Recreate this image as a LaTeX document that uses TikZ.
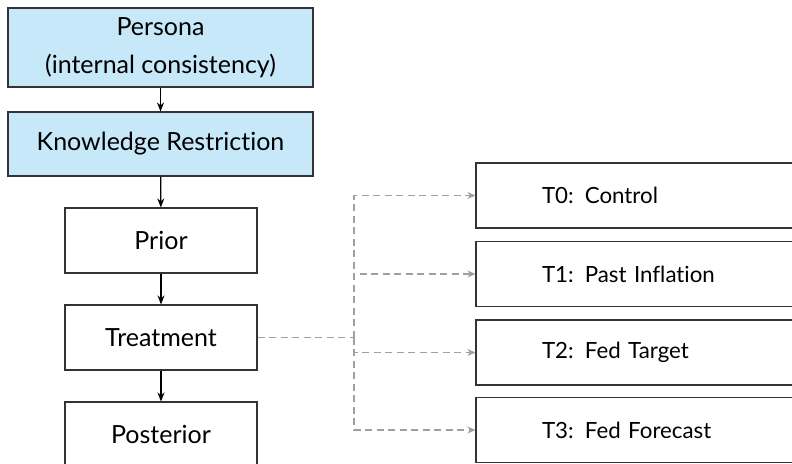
\documentclass[tikz,border=0pt]{standalone}
\usepackage{fontspec}
\setmainfont{Lato}[Ligatures=NoCommon]
\usetikzlibrary{arrows.meta}
\definecolor{boxblue}{RGB}{198,232,248}

\begin{document}
\begin{tikzpicture}
[x=1pt,y=-1pt,font=\fontsize{25}{38}\selectfont,
every node/.style={draw=black!80,line width=1.1pt,rectangle,inner sep=0pt},
stage/.style={minimum width=192pt,minimum height=65pt},
top/.style={fill=boxblue,minimum width=305pt},
arm/.style={minimum width=420pt,minimum height=65pt,text width=288pt,align=left,inner xsep=66pt,font=\fontsize{22.3}{27}\selectfont},
flow/.style={-{Stealth[length=9pt,width=7pt]},line width=1.2pt},
feed/.style={-{Stealth[length=8pt,width=7pt]},line width=1.1pt,gray!75,dash pattern=on 7pt off 4.5pt}]
\useasboundingbox (0,0) rectangle (792,463);
\node[top,minimum height=79pt,align=center] (persona) at (160.5,47.5) {Persona\\(internal consistency)};
\node[top,minimum height=64pt] (know) at (160.5,144) {Knowledge Restriction};
\node[stage] (prior) at (161,240.5) {Prior};
\node[stage] (treat) at (161,337.5) {Treatment};
\node[stage] (post) at (161,434.5) {Posterior};
\node[arm] (t0) at (686,195.5) {T0:\hspace{0.5em}Control};
\node[arm] (t1) at (686,274) {T1:\hspace{0.5em}Past Inflation};
\node[arm] (t2) at (686,352.5) {T2:\hspace{0.5em}Fed Target};
\node[arm] (t3) at (686,430) {T3:\hspace{0.5em}Fed Forecast};
\coordinate (split) at (354,337.5);
\foreach \from/\to in {persona/know,know/prior,prior/treat,treat/post}
\draw[flow] (\from) -- (\to);
\draw[feed,-] (treat) -- (split);
\foreach \to in {t0,t1,t2,t3}
\draw[feed] (split) |- (\to);
\end{tikzpicture}
\end{document}
